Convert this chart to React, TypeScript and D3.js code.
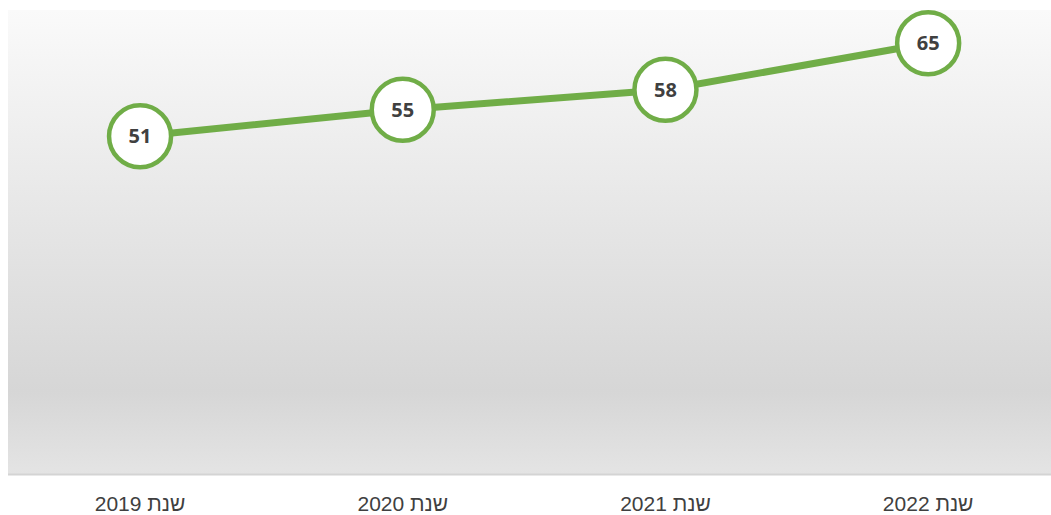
import React from "react";
import * as d3 from "d3";

const categories = ["שנת 2019", "שנת 2020", "שנת 2021", "שנת 2022"];
const values = [51, 55, 58, 65];
const yDomain = [0, 70];

export default function App() {
  const W = 1051, H = 515;
  const left = 8.7, right = 1059.5, top = 10, bottom = 475;
  const x = d3.scaleBand<string>().domain(categories).range([left, right]);
  const y = d3.scaleLinear().domain(yDomain).range([bottom, top]);
  const cx = (c: string) => (x(c) as number) + x.bandwidth() / 2;
  const pts = categories.map((c, i) => [cx(c), y(values[i])] as [number, number]);
  const line = d3.line()(pts) as string;
  return (
    <div style={{ position: "absolute", left: 0, top: 0 }}>
      <svg width={W} height={H} style={{ display: "block" }}>
        <defs>
          <linearGradient id="bg" x1="0" y1="0" x2="0" y2="1">
            <stop offset="0%" stopColor="#fafafa" />
            <stop offset="45%" stopColor="#e6e6e6" />
            <stop offset="82%" stopColor="#d6d6d6" />
            <stop offset="100%" stopColor="#e4e4e4" />
          </linearGradient>
        </defs>
        <rect x={8} y={top} width={W - 8} height={bottom - top} fill="url(#bg)" />
        <line x1={8} x2={W} y1={bottom - 0.5} y2={bottom - 0.5} stroke="#d4d4d4" strokeWidth={2} />
        <path d={line} fill="none" stroke="#70ad47" strokeWidth={7} />
        {pts.map((p, i) => (
          <g key={i}>
            <circle cx={p[0]} cy={p[1]} r={31} fill="#ffffff" stroke="#70ad47" strokeWidth={4.5} />
            <text x={p[0]} y={p[1]} dy="0.36em" textAnchor="middle" fontFamily="'Open Sans', Lato, sans-serif" fontWeight={700} fontSize={20} fill="#404040">
              {values[i]}
            </text>
          </g>
        ))}
        {categories.map((c) => (
          <text key={c} x={cx(c)} y={511} textAnchor="middle" direction="rtl" fontFamily="'Liberation Sans', Arial, sans-serif" fontSize={21} fill="#404040">
            {c}
          </text>
        ))}
      </svg>
    </div>
  );
}
